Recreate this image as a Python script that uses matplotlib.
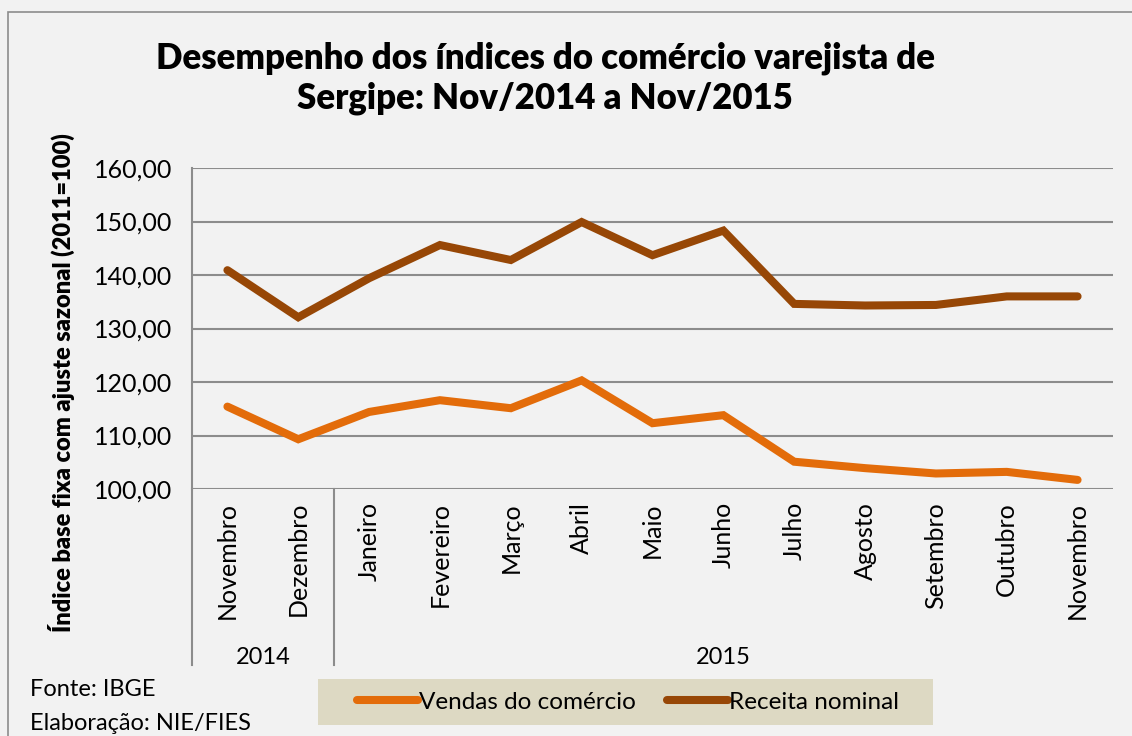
import numpy as np
import matplotlib.pyplot as plt
from matplotlib.patches import Rectangle
from matplotlib.ticker import FuncFormatter, MultipleLocator
import matplotlib.transforms as mtransforms

plt.rcParams['font.family'] = ['Lato', 'DejaVu Sans']

meses = ['Novembro', 'Dezembro', 'Janeiro', 'Fevereiro', 'Março', 'Abril', 'Maio',
         'Junho', 'Julho', 'Agosto', 'Setembro', 'Outubro', 'Novembro']
anos = ['2014', '2015']
n_por_ano = [2, 11]

vendas = [115.4, 109.3, 114.4, 116.6, 115.1, 120.3, 112.3, 113.8, 105.1, 103.9, 102.9, 103.2, 101.7]
receita = [140.9, 132.1, 139.4, 145.6, 142.8, 149.9, 143.7, 148.3, 134.6, 134.3, 134.4, 136.0, 136.0]

cor_vendas = '#e36c0a'
cor_receita = '#974706'
fundo = '#f2f2f2'
cinza = '#8c8c8c'

W, H = 1132, 736
fig = plt.figure(figsize=(W / 100, H / 100), dpi=100, facecolor=fundo)

# outer chart border
fig.patches.append(Rectangle((8 / W, -0.1), 1.2, 1 - 12 / H + 0.1, transform=fig.transFigure,
                             fill=False, edgecolor=cinza, lw=1.2))

ax = fig.add_axes([192 / W, 1 - 489 / H, 921 / W, 321 / H], facecolor=fundo)
x = np.arange(len(meses))

ax.plot(x, vendas, color=cor_vendas, lw=5.8, solid_capstyle='round', solid_joinstyle='miter',
        label='Vendas do comércio')
ax.plot(x, receita, color=cor_receita, lw=5.8, solid_capstyle='round', solid_joinstyle='miter',
        label='Receita nominal')

ax.set_xlim(-0.5, len(meses) - 0.5)
ax.set_ylim(100, 160)
ax.yaxis.set_major_locator(MultipleLocator(10))
ax.yaxis.set_major_formatter(FuncFormatter(lambda v, p: f'{v:.2f}'.replace('.', ',')))
ax.grid(axis='y', color=cinza, lw=1.5)
ax.set_axisbelow(True)
for s in ['top', 'right', 'bottom']:
    ax.spines[s].set_visible(False)
ax.spines['left'].set_color(cinza)
ax.spines['left'].set_linewidth(1.5)
ax.tick_params(axis='y', length=0, labelsize=18, pad=14)
ax.set_xticks([])

ax.set_ylabel('Índice base fixa com ajuste sazonal (2011=100)', fontsize=17, fontweight='heavy')
ax.yaxis.set_label_coords(-117 / 921, 0.33)

# multi-level category axis
trans = mtransforms.blended_transform_factory(ax.transData, ax.transAxes)
base = -(665 - 489) / 321
for i, m in enumerate(meses):
    ax.text(i, -13 / 321, m, rotation=90, ha='center', va='top', fontsize=18, transform=trans)
ax.plot([-0.5, -0.5], [0, base], color=cinza, lw=1.5, transform=trans, clip_on=False)
pos = -0.5
for ano, n in zip(anos, n_por_ano):
    ax.text(pos + n / 2, -(657 - 489) / 321, ano, ha='center', va='center', fontsize=17,
            transform=trans)
    pos += n
    if pos < len(meses) - 0.5:
        ax.plot([pos, pos], [0, base], color=cinza, lw=1.5, transform=trans, clip_on=False)

fig.text(545 / W, 1 - 78 / H, 'Desempenho dos índices do comércio varejista de\nSergipe: Nov/2014 a Nov/2015',
         ha='center', va='center', fontsize=25, fontweight='heavy', linespacing=1.25)

# legend box
fig.patches.append(Rectangle((318 / W, 1 - 725 / H), 615 / W, 46 / H, transform=fig.transFigure,
                             facecolor='#ddd9c3', edgecolor='none'))
fig.legend(loc='center', bbox_to_anchor=(628 / W, 1 - 702 / H), ncol=2, frameon=False,
           fontsize=17.5, handlelength=2.5, handletextpad=0.05, columnspacing=1.3)

fig.text(30 / W, 1 - 690 / H, 'Fonte: IBGE', ha='left', va='center', fontsize=17)
fig.text(30 / W, 1 - 724 / H, 'Elaboração: NIE/FIES', ha='left', va='center', fontsize=17)

fig.savefig('out.png', dpi=100, facecolor=fundo)
